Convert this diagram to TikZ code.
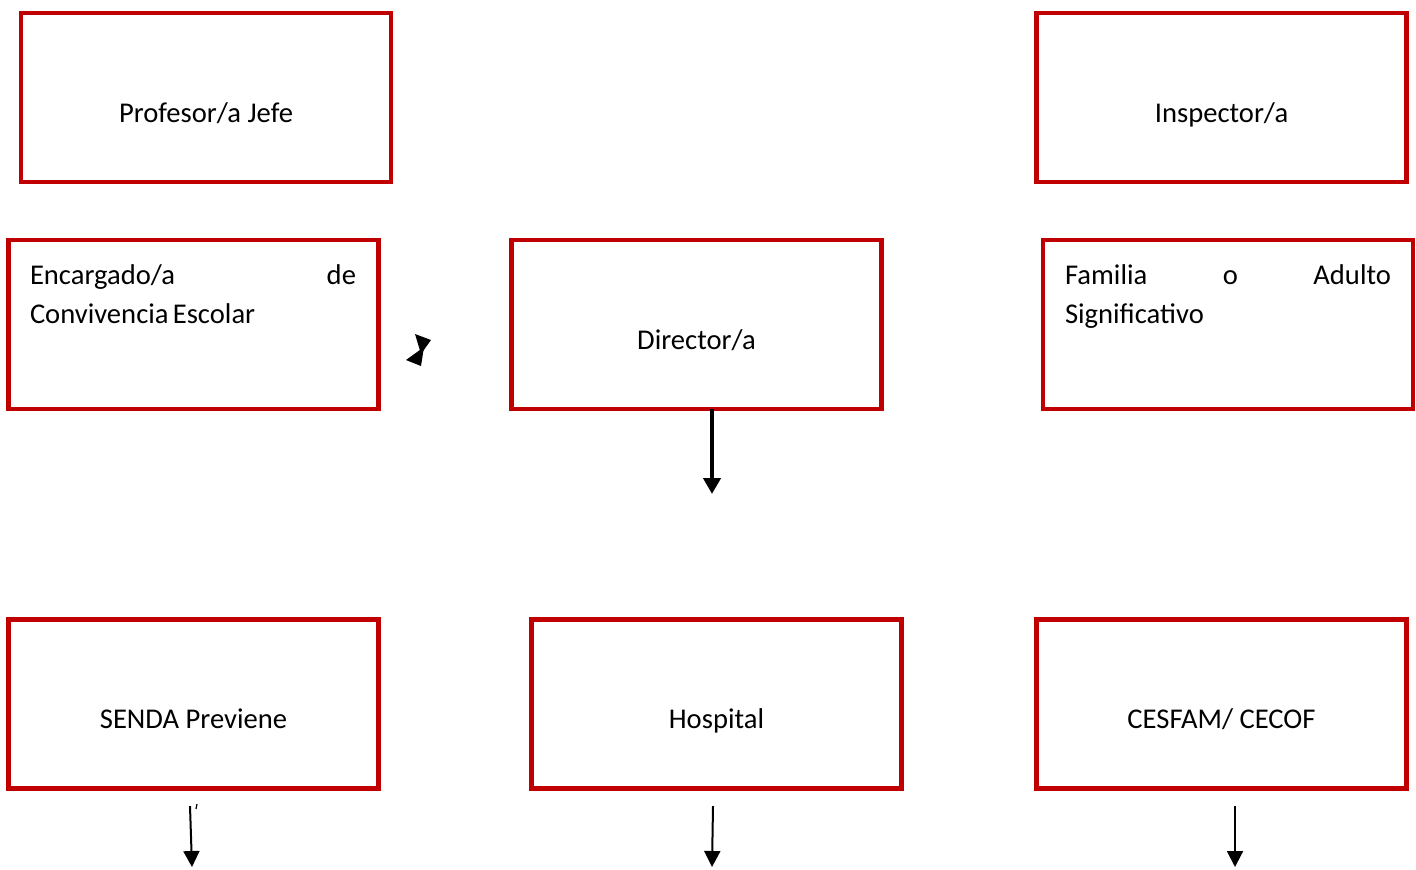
\documentclass[tikz,border=0pt]{standalone}
\usepackage{fontspec}
\setmainfont{Carlito}
\usetikzlibrary{arrows.meta}

\tikzset{
  redbox/.style={draw=boxRed, line width=2.3pt, minimum width=185pt, minimum height=84.5pt, inner sep=0pt, outer sep=0pt},
  boxtext/.style={inner sep=0pt, outer sep=0pt, font=\fontsize{14.3}{19.5}\selectfont},
  centertext/.style={boxtext, anchor=base, yshift=-12.4pt},
  parbox/.style={boxtext, text width=163pt, align=left, anchor=north west},
  thickarrow/.style={line width=2pt, -{Triangle[width=8.5pt,length=8pt]}},
  thinarrow/.style={line width=1pt, -{Triangle[width=8pt,length=8pt]}}
}

\begin{document}
\begin{tikzpicture}[x=0.5pt,y=-0.5pt]
\definecolor{boxRed}{RGB}{192,0,0}
\path[use as bounding box,fill=white] (0,0) rectangle (1416,869);

% top row
\node[redbox] (profesor) at (206,97.5) {};
\node[centertext] (profesorText) at (profesor.center) {Profesor/a Jefe};

\node[redbox] (inspector) at (1221.5,97.5) {};
\node[centertext] (inspectorText) at (inspector.center) {Inspector/a};

% middle row
\node[redbox] (encargado) at (193.5,324.5) {};
\node[parbox] (encargadoText) at (30,265) {Encargado/a\hfill de\\Convivencia\hspace{0.15em}Escolar};

\node[redbox] (director) at (696.5,324.5) {};
\node[centertext] (directorText) at (director.center) {Director/a};

\node[redbox] (familia) at (1228,324.5) {};
\node[parbox] (familiaText) at (1065,265) {Familia\hfill o\hfill Adulto\\Significativo};

% bottom row
\node[redbox] (senda) at (193.5,704) {};
\node[centertext] (sendaText) at (senda.center) {SENDA Previene};

\node[redbox] (hospital) at (716.5,704) {};
\node[centertext] (hospitalText) at (hospital.center) {Hospital};

\node[redbox] (cesfam) at (1221.5,704) {};
\node[centertext] (cesfamText) at (cesfam.center) {CESFAM/ CECOF};

% arrows
\coordinate (directorEnd) at (712,494);
\draw[thickarrow] (directorEnd |- director.south) -- (directorEnd);

\coordinate (sendaStart) at (190,806);
\coordinate (sendaEnd) at (192,867);
\draw[thinarrow] (sendaStart) -- (sendaEnd);
\draw[line width=0.6pt] (197,804) -- (196,809);

\coordinate (hospitalStart) at (713,806);
\coordinate (hospitalEnd) at (712,867);
\draw[thinarrow] (hospitalStart) -- (hospitalEnd);

\coordinate (cesfamStart) at (1235,806);
\coordinate (cesfamEnd) at (1235,867);
\draw[thinarrow] (cesfamStart) -- (cesfamEnd);

% stray arrow head
\fill (415,334) -- (431,340) -- (421,354) -- cycle;
\fill (424,347) -- (421,366) -- (406,360) -- cycle;
\end{tikzpicture}
\end{document}
